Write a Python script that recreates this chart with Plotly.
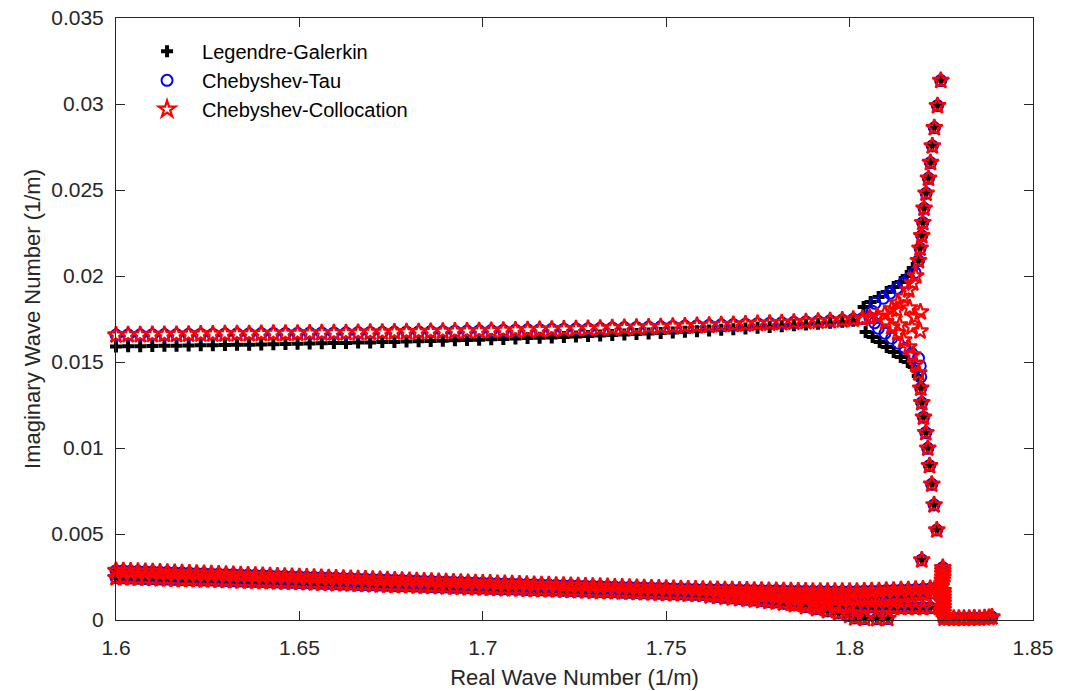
import plotly.graph_objects as go

# ---------------- data ----------------
x_ticks = [1.6, 1.65, 1.7, 1.75, 1.8, 1.85]
x_ticklabels = ["1.6", "1.65", "1.7", "1.75", "1.8", "1.85"]
y_ticks = [0, 0.005, 0.01, 0.015, 0.02, 0.025, 0.03, 0.035]
y_ticklabels = ["0", "0.005", "0.01", "0.015", "0.02", "0.025", "0.03", "0.035"]

series_names = ["Legendre-Galerkin", "Chebyshev-Tau", "Chebyshev-Collocation"]

# upper (flat) branch
x_up = [1.6000, 1.6033, 1.6066, 1.6099, 1.6132, 1.6165, 1.6198, 1.6231, 1.6264, 1.6297,
        1.6330, 1.6363, 1.6396, 1.6429, 1.6462, 1.6495, 1.6528, 1.6561, 1.6594, 1.6627,
        1.6660, 1.6693, 1.6726, 1.6759, 1.6792, 1.6825, 1.6858, 1.6891, 1.6924, 1.6957,
        1.6990, 1.7023, 1.7056, 1.7089, 1.7122, 1.7155, 1.7188, 1.7221, 1.7254, 1.7287,
        1.7320, 1.7353, 1.7386, 1.7419, 1.7452, 1.7485, 1.7518, 1.7551, 1.7584, 1.7617,
        1.7650, 1.7683, 1.7716, 1.7749, 1.7782, 1.7815, 1.7848, 1.7881, 1.7914, 1.7947,
        1.7980, 1.8010, 1.8035, 1.8055]
y_up_tau = [0.01657, 0.01658, 0.01658, 0.01659, 0.01660, 0.01660, 0.01661, 0.01662, 0.01662, 0.01663,
            0.01664, 0.01664, 0.01665, 0.01666, 0.01666, 0.01667, 0.01668, 0.01669, 0.01669, 0.01670,
            0.01671, 0.01672, 0.01673, 0.01674, 0.01675, 0.01676, 0.01677, 0.01678, 0.01679, 0.01680,
            0.01681, 0.01683, 0.01684, 0.01685, 0.01687, 0.01688, 0.01690, 0.01691, 0.01693, 0.01694,
            0.01696, 0.01698, 0.01700, 0.01701, 0.01703, 0.01705, 0.01707, 0.01709, 0.01711, 0.01713,
            0.01716, 0.01718, 0.01720, 0.01723, 0.01725, 0.01728, 0.01731, 0.01734, 0.01737, 0.01740,
            0.01744, 0.01748, 0.01753, 0.01758]
y_up_gal = [0.01590, 0.01591, 0.01592, 0.01593, 0.01594, 0.01595, 0.01596, 0.01597, 0.01598, 0.01599,
            0.01600, 0.01601, 0.01602, 0.01603, 0.01605, 0.01606, 0.01607, 0.01609, 0.01610, 0.01611,
            0.01613, 0.01614, 0.01616, 0.01617, 0.01619, 0.01621, 0.01622, 0.01624, 0.01626, 0.01628,
            0.01630, 0.01632, 0.01634, 0.01636, 0.01639, 0.01641, 0.01643, 0.01646, 0.01648, 0.01651,
            0.01654, 0.01657, 0.01660, 0.01663, 0.01666, 0.01669, 0.01672, 0.01676, 0.01679, 0.01683,
            0.01687, 0.01691, 0.01695, 0.01699, 0.01703, 0.01708, 0.01713, 0.01718, 0.01723, 0.01728,
            0.01734, 0.01740, 0.01747, 0.01754]

# shared steep branches
x_spike_up = [1.81877, 1.81921, 1.81967, 1.81995, 1.82030, 1.82085, 1.82150, 1.82205, 1.82255, 1.82310, 1.82396, 1.82486]
y_spike_up = [0.02089, 0.02161, 0.02234, 0.02310, 0.02394, 0.02481, 0.02568, 0.02659, 0.02756, 0.02862, 0.02990, 0.03136]
x_spike_dn = [1.81940, 1.81967, 1.82014, 1.82077, 1.82131, 1.82178, 1.82240, 1.82303, 1.82377, 1.81967]
y_spike_dn = [0.01347, 0.01263, 0.01179, 0.01089, 0.00998, 0.00897, 0.00789, 0.00669, 0.00523, 0.00349]

# fork arms near the cusp
x_arm_up_tau = [1.8062, 1.80691, 1.80921, 1.81101, 1.81284, 1.81467, 1.81620, 1.81784]
y_arm_up_tau = [0.01795, 0.01841, 0.01870, 0.01899, 0.01928, 0.01958, 0.01987, 0.02020]
x_arm_dn_tau = [1.8068, 1.80784, 1.80964, 1.81148, 1.81331, 1.81511, 1.81694, 1.81877, 1.81926, 1.81940]
y_arm_dn_tau = [0.01728, 0.01696, 0.01667, 0.01638, 0.01609, 0.01580, 0.01551, 0.01522, 0.01477, 0.01413]

x_arm_up_gal = [1.80383, 1.80574, 1.80792, 1.81011, 1.81202, 1.81393, 1.81557, 1.81721]
y_arm_up_gal = [0.01820, 0.01849, 0.01878, 0.01907, 0.01936, 0.01965, 0.02000, 0.02047]
x_arm_dn_gal = [1.80437, 1.80628, 1.80820, 1.81011, 1.81202, 1.81393, 1.81585, 1.81749, 1.81858]
y_arm_dn_gal = [0.01674, 0.01645, 0.01616, 0.01587, 0.01558, 0.01529, 0.01500, 0.01471, 0.01419]

x_arm_up_col = [1.8075, 1.80956, 1.81148, 1.81311, 1.81475, 1.81612, 1.81721, 1.81803]
y_arm_up_col = [0.01765, 0.01779, 0.01808, 0.01843, 0.01878, 0.01919, 0.01959, 0.02000]
x_arm_dn_col = [1.80984, 1.81148, 1.81311, 1.81475, 1.81612, 1.81721, 1.81803, 1.81885]
y_arm_dn_col = [0.01733, 0.01703, 0.01669, 0.01628, 0.01587, 0.01541, 0.01488, 0.01436]
x_ring_col = [1.81284, 1.81639, 1.81776, 1.81694, 1.81366, 1.81930, 1.81920]
y_ring_col = [0.01802, 0.01814, 0.01762, 0.01703, 0.01715, 0.01790, 0.01680]

# lower band
x_low = [1.600, 1.602, 1.604, 1.606, 1.608, 1.610, 1.612, 1.614, 1.616, 1.618,
         1.620, 1.622, 1.624, 1.626, 1.628, 1.630, 1.632, 1.634, 1.636, 1.638,
         1.640, 1.642, 1.644, 1.646, 1.648, 1.650, 1.652, 1.654, 1.656, 1.658,
         1.660, 1.662, 1.664, 1.666, 1.668, 1.670, 1.672, 1.674, 1.676, 1.678,
         1.680, 1.682, 1.684, 1.686, 1.688, 1.690, 1.692, 1.694, 1.696, 1.698,
         1.700, 1.702, 1.704, 1.706, 1.708, 1.710, 1.712, 1.714, 1.716, 1.718,
         1.720, 1.722, 1.724, 1.726, 1.728, 1.730, 1.732, 1.734, 1.736, 1.738,
         1.740, 1.742, 1.744, 1.746, 1.748, 1.750, 1.752, 1.754, 1.756, 1.758,
         1.760, 1.762, 1.764, 1.766, 1.768, 1.770, 1.772, 1.774, 1.776, 1.778,
         1.780, 1.782, 1.784, 1.786, 1.788, 1.790, 1.792, 1.794, 1.796, 1.798,
         1.800, 1.802, 1.804, 1.806, 1.808, 1.810, 1.812, 1.814, 1.816, 1.818,
         1.820, 1.822]
y_low1 = [0.00287, 0.00286, 0.00284, 0.00283, 0.00281, 0.00280, 0.00278, 0.00277, 0.00275, 0.00274,
          0.00273, 0.00271, 0.00270, 0.00268, 0.00267, 0.00265, 0.00264, 0.00262, 0.00261, 0.00260,
          0.00258, 0.00257, 0.00255, 0.00254, 0.00252, 0.00251, 0.00249, 0.00248, 0.00247, 0.00245,
          0.00244, 0.00242, 0.00241, 0.00239, 0.00238, 0.00236, 0.00235, 0.00234, 0.00232, 0.00231,
          0.00229, 0.00228, 0.00226, 0.00225, 0.00223, 0.00222, 0.00221, 0.00219, 0.00218, 0.00216,
          0.00215, 0.00214, 0.00212, 0.00211, 0.00210, 0.00209, 0.00207, 0.00206, 0.00205, 0.00204,
          0.00202, 0.00201, 0.00200, 0.00199, 0.00197, 0.00196, 0.00195, 0.00194, 0.00192, 0.00191,
          0.00190, 0.00189, 0.00187, 0.00186, 0.00185, 0.00184, 0.00182, 0.00181, 0.00180, 0.00179,
          0.00178, 0.00177, 0.00177, 0.00176, 0.00175, 0.00174, 0.00174, 0.00173, 0.00172, 0.00171,
          0.00171, 0.00170, 0.00169, 0.00168, 0.00168, 0.00167, 0.00167, 0.00166, 0.00166, 0.00166,
          0.00166, 0.00167, 0.00168, 0.00169, 0.00170, 0.00172, 0.00173, 0.00175, 0.00176, 0.00178,
          0.00180, 0.00182]
y_low2 = [0.00246, 0.00245, 0.00244, 0.00243, 0.00242, 0.00241, 0.00239, 0.00238, 0.00237, 0.00236,
          0.00235, 0.00234, 0.00233, 0.00232, 0.00231, 0.00230, 0.00228, 0.00227, 0.00226, 0.00225,
          0.00224, 0.00223, 0.00221, 0.00220, 0.00219, 0.00218, 0.00216, 0.00215, 0.00214, 0.00213,
          0.00211, 0.00210, 0.00209, 0.00207, 0.00206, 0.00205, 0.00204, 0.00202, 0.00201, 0.00200,
          0.00199, 0.00197, 0.00196, 0.00195, 0.00194, 0.00192, 0.00191, 0.00190, 0.00188, 0.00187,
          0.00186, 0.00185, 0.00183, 0.00182, 0.00181, 0.00180, 0.00178, 0.00177, 0.00176, 0.00175,
          0.00174, 0.00173, 0.00171, 0.00170, 0.00169, 0.00167, 0.00166, 0.00165, 0.00164, 0.00162,
          0.00161, 0.00160, 0.00158, 0.00157, 0.00156, 0.00154, 0.00153, 0.00152, 0.00150, 0.00149,
          0.00148, 0.00147, 0.00145, 0.00144, 0.00142, 0.00141, 0.00139, 0.00138, 0.00137, 0.00135,
          0.00134, 0.00132, 0.00131, 0.00130, 0.00128, 0.00127, 0.00126, 0.00125, 0.00124, 0.00123,
          0.00124, 0.00127, 0.00130, 0.00133, 0.00136, 0.00139, 0.00142, 0.00145, 0.00148, 0.00151,
          0.00154, 0.00157]
x_mid = [1.762, 1.764, 1.766, 1.768, 1.770, 1.772, 1.774, 1.776, 1.778, 1.780,
         1.782, 1.784, 1.786, 1.788, 1.790, 1.792, 1.794, 1.796, 1.798, 1.800,
         1.802, 1.804, 1.806, 1.808, 1.810, 1.812, 1.814, 1.816, 1.818, 1.820, 1.822]
y_mid = [0.00140, 0.00136, 0.00132, 0.00128, 0.00124, 0.00120, 0.00116, 0.00112, 0.00108, 0.00104,
         0.00100, 0.00097, 0.00094, 0.00091, 0.00089, 0.00087, 0.00085, 0.00083, 0.00081, 0.00080,
         0.00078, 0.00077, 0.00076, 0.00075, 0.00074, 0.00073, 0.00073, 0.00072, 0.00072, 0.00072, 0.00072]
x_bot = [1.7820, 1.7850, 1.7880, 1.7910, 1.7940, 1.7970, 1.8000, 1.8014, 1.8041, 1.8074, 1.8104]
y_bot = [0.00098, 0.00088, 0.00077, 0.00065, 0.00053, 0.00040, 0.00026, 0.00012, 0.00008, 0.00007, 0.00008]
x_col = [1.8235, 1.8250, 1.8252, 1.8253, 1.8254, 1.8254, 1.8254, 1.8254, 1.8255,
         1.8255, 1.8255, 1.8255, 1.8255, 1.8255, 1.8255, 1.8255, 1.8256, 1.8258]
y_col = [0.00186, 0.00196, 0.00214, 0.00232, 0.00250, 0.00268, 0.00286, 0.00304, 0.00170,
         0.00152, 0.00134, 0.00116, 0.00098, 0.00080, 0.00062, 0.00044, 0.00026, 0.00010]
x_tail = [1.8270, 1.8284, 1.8298, 1.8312, 1.8326, 1.8340, 1.8354, 1.8368, 1.8380, 1.8388]
y_tail = [0.00010, 0.00009, 0.00010, 0.00009, 0.00010, 0.00011, 0.00010, 0.00012, 0.00014, 0.00017]

# ---------------- assemble per-method point sets ----------------
low_x = x_low + x_low + x_mid + x_bot + x_col + x_tail
low_y = y_low1 + y_low2 + y_mid + y_bot + y_col + y_tail

gal_x = x_up[:62] + x_arm_up_gal + x_arm_dn_gal + x_spike_up + x_spike_dn + low_x
gal_y = y_up_gal[:62] + y_arm_up_gal + y_arm_dn_gal + y_spike_up + y_spike_dn + low_y

tau_x = x_up + x_arm_up_tau + x_arm_dn_tau + x_spike_up + x_spike_dn + low_x
tau_y = y_up_tau + y_arm_up_tau + y_arm_dn_tau + y_spike_up + y_spike_dn + low_y

col_x = x_up + x_arm_up_col + x_arm_dn_col + x_ring_col + x_spike_up + x_spike_dn + low_x
col_y = y_up_tau + y_arm_up_col + y_arm_dn_col + y_ring_col + y_spike_up + y_spike_dn + low_y

fig = go.Figure()
fig.add_trace(go.Scatter(x=gal_x, y=gal_y, mode="markers", name=series_names[0], cliponaxis=False,
                         marker=dict(symbol="cross", size=10, color="black", line=dict(width=0))))
fig.add_trace(go.Scatter(x=tau_x, y=tau_y, mode="markers", name=series_names[1], cliponaxis=False,
                         marker=dict(symbol="circle-open", size=11, color="#0000ff", line=dict(width=2, color="#0000ff"))))
fig.add_trace(go.Scatter(x=col_x, y=col_y, mode="markers", name=series_names[2], cliponaxis=False,
                         marker=dict(symbol="star-open", size=12.5, color="#ff0000", line=dict(width=2.2, color="#ff0000"))))

axis_col = "#262626"
fig.update_layout(
    width=1070, height=691,
    margin=dict(l=116, r=37, t=18, b=71, autoexpand=False),
    plot_bgcolor="white", paper_bgcolor="white",
    font=dict(family="Liberation Sans, Arial, Helvetica, sans-serif", size=21, color=axis_col),
    showlegend=True,
    legend=dict(x=0.0175, y=0.977, xanchor="left", yanchor="top", bgcolor="rgba(255,255,255,0)",
                font=dict(size=20, color="black"), itemwidth=60, tracegroupgap=0),
    xaxis=dict(range=[1.6, 1.85], tickmode="array", tickvals=x_ticks, ticktext=x_ticklabels,
               ticks="inside", ticklen=9, tickwidth=1, tickcolor=axis_col,
               showline=True, linecolor=axis_col, linewidth=1, mirror="ticks",
               showgrid=False, zeroline=False, ticklabelstandoff=9, automargin=False,
               ticklabeloverflow="allow",
               title=dict(text="Real Wave Number (1/m)", font=dict(size=22), standoff=11)),
    yaxis=dict(range=[0, 0.035], tickmode="array", tickvals=y_ticks, ticktext=y_ticklabels,
               ticks="inside", ticklen=9, tickwidth=1, tickcolor=axis_col,
               showline=True, linecolor=axis_col, linewidth=1, mirror="ticks",
               showgrid=False, zeroline=False, ticklabelstandoff=7, automargin=False,
               ticklabeloverflow="allow",
               title=dict(text="Imaginary Wave Number (1/m)", font=dict(size=22), standoff=4)),
)

fig.write_html("out.html", config={"displayModeBar": False},
               post_script="document.body.style.margin='0';")
